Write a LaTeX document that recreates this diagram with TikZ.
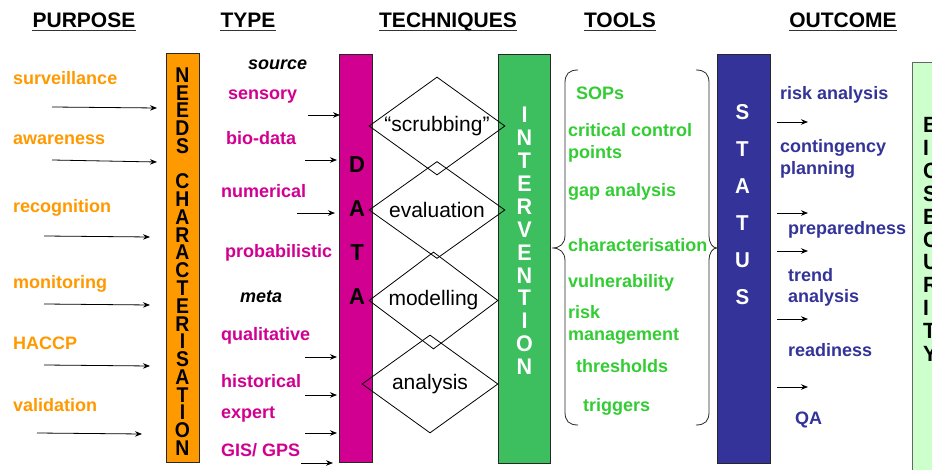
\documentclass[tikz,border=0pt]{standalone}
\usepackage{fontspec}
\setmainfont{Liberation Sans}
\usepackage{graphicx}
\usetikzlibrary{shapes.geometric,arrows.meta}
\definecolor{orangeB}{RGB}{255,153,0}
\definecolor{magB}{RGB}{210,0,145}
\definecolor{greenB}{RGB}{61,191,95}
\definecolor{greenT}{RGB}{51,204,51}
\definecolor{blueB}{RGB}{51,51,153}
\definecolor{bioB}{RGB}{204,255,204}
\definecolor{edgeC}{RGB}{40,40,40}
% vertical letter stacks: scale, baselineskip, rows
\newcommand\cstack[3]{\scalebox{1}[#1]{\vbox{\baselineskip=#2\lineskiplimit=-100pt\lineskip=0pt\halign{\hfil##\hfil\cr#3\crcr}}}}
\newcommand\lstack[3]{\scalebox{1}[#1]{\vbox{\baselineskip=#2\lineskiplimit=-100pt\lineskip=0pt\halign{##\hfil\cr#3\crcr}}}}
\begin{document}
\begin{tikzpicture}[x=1pt,y=-1pt,
  hdr/.style={anchor=base,inner sep=0,font=\fontsize{21}{24}\selectfont\bfseries},
  uline/.style={line width=1.6pt,draw=black!80},
  lbl/.style={anchor=base west,inner sep=0,font=\fontsize{18}{21}\selectfont\bfseries},
  purp/.style={lbl,text=orangeB},
  typ/.style={lbl,text=magB},
  metalbl/.style={lbl,text=black,font=\fontsize{18}{21}\selectfont\bfseries\itshape},
  tool/.style={lbl,text=greenT},
  outc/.style={lbl,text=blueB},
  bar/.style={draw=edgeC,line width=0.7pt,inner sep=0,rectangle},
  stack/.style={inner sep=0,font=\bfseries},
  diam/.style={draw=black,line width=0.8pt,shape=diamond,aspect=1.39,inner sep=0,font=\fontsize{21}{24}\selectfont},
  arr/.style={-{Stealth[length=7pt,width=5.5pt]},line width=0.8pt},
  brace/.style={draw=black!85,line width=0.8pt}]
\useasboundingbox (0,0) rectangle (932,470);
\clip (0,0) rectangle (932,470);

% ---------- headers ----------
\node[hdr] (hpurpose) at (84,28) {PURPOSE};
\node[hdr] (htype) at (248,28) {TYPE};
\node[hdr] (htech) at (448,28) {TECHNIQUES};
\node[hdr] (htools) at (620,28) {TOOLS};
\node[hdr] (hout) at (843,28) {OUTCOME};
\foreach \h in {hpurpose,htype,htech,htools,hout}
  \draw[uline] ([yshift=-2.5pt]\h.base west) -- ([yshift=-2.5pt]\h.base east);

% ---------- bars ----------
\node[bar,fill=orangeB,minimum width=33,minimum height=409] (needsbar) at (182.5,257.5) {};
\node[bar,fill=magB,minimum width=33,minimum height=408] (databar) at (355.5,258) {};
\node[bar,fill=greenB,minimum width=52,minimum height=409] (intbar) at (524,258.5) {};
\node[bar,fill=blueB,minimum width=53,minimum height=409] (statbar) at (743.5,258.5) {};
\node[bar,fill=bioB,draw=black!60,anchor=north west,minimum width=40,minimum height=430] (biobar) at (912,62) {};

\node[stack,text=black,font=\fontsize{19.4}{16}\selectfont\bfseries] (needstxt) at (182.5,261.5)
  {\cstack{1.1}{16.15pt}{N\cr E\cr E\cr D\cr S\cr\noalign{\vskip16.15pt} C\cr H\cr A\cr R\cr A\cr C\cr T\cr E\cr R\cr I\cr S\cr A\cr T\cr I\cr O\cr N}};
\node[stack,text=black,font=\fontsize{22}{20}\selectfont\bfseries] (datatxt) at (357,231)
  {\cstack{1.05}{41.9pt}{D\cr A\cr T\cr A}};
\node[stack,text=white,font=\fontsize{21.5}{20}\selectfont\bfseries] (inttxt) at (524.5,241)
  {\cstack{1.05}{21.8pt}{I\cr N\cr T\cr E\cr R\cr V\cr E\cr N\cr T\cr I\cr O\cr N}};
\node[stack,text=white,font=\fontsize{20.5}{20}\selectfont\bfseries] (stattxt) at (742.5,204.5)
  {\cstack{1.05}{35.2pt}{S\cr T\cr A\cr T\cr U\cr S}};
\node[stack,text=black,anchor=west,font=\fontsize{21}{20}\selectfont\bfseries] (biotxt) at (923,239.5)
  {\lstack{1.05}{21.8pt}{B\cr I\cr O\cr S\cr E\cr C\cr U\cr R\cr I\cr T\cr Y}};

% ---------- purpose ----------
\node[purp] (p1) at (13,85) {surveillance};
\node[purp] (p2) at (13,145) {awareness};
\node[purp] (p3) at (13,213) {recognition};
\node[purp] (p4) at (13,289) {monitoring};
\node[purp] (p5) at (13,349) {HACCP};
\node[purp] (p6) at (13,411) {validation};
\coordinate (pa1) at (52,107);  \coordinate (pb1) at (157,108);
\coordinate (pa2) at (52,160);  \coordinate (pb2) at (157,162);
\coordinate (pa3) at (44,236);  \coordinate (pb3) at (150,237);
\coordinate (pa4) at (44,304);  \coordinate (pb4) at (150,305);
\coordinate (pa5) at (44,365);  \coordinate (pb5) at (150,366);
\coordinate (pa6) at (37,433);  \coordinate (pb6) at (142,434);
\foreach \i in {1,...,6} \draw[arr] (pa\i) -- (pb\i);

% ---------- type ----------
\node[metalbl] (tsource) at (248,70) {source};
\node[typ] (t1) at (228,100) {sensory};
\node[typ] (t2) at (226,145) {bio-data};
\node[typ] (t3) at (221,198) {numerical};
\node[typ] (t4) at (225,258) {probabilistic};
\node[metalbl] (tmeta) at (240,303) {meta};
\node[typ] (t5) at (221,341) {qualitative};
\node[typ] (t6) at (221,388) {historical};
\node[typ] (t7) at (221,418) {expert};
\node[typ] (t8) at (221,456) {GIS/ GPS};
\coordinate (ta1) at (308,115); \coordinate (tb1) at (340,115);
\coordinate (ta2) at (305,160); \coordinate (tb2) at (337,160);
\coordinate (ta3) at (297,213); \coordinate (tb3) at (335,213);
\coordinate (ta4) at (305,357); \coordinate (tb4) at (337,357);
\coordinate (ta5) at (305,395); \coordinate (tb5) at (337,395);
\coordinate (ta6) at (305,433); \coordinate (tb6) at (337,433);
\coordinate (ta7) at (301,463); \coordinate (tb7) at (333,463);
\foreach \i in {1,...,7} \draw[arr] (ta\i) -- (tb\i);

% ---------- techniques ----------
\node[diam,minimum width=136,minimum height=98] (dscrub) at (437,126) {“scrubbing”};
\node[diam,minimum width=136,minimum height=97] (deval) at (437,210) {evaluation};
\node[diam,minimum width=129,minimum height=97] (dmodel) at (433.5,300.5) {modelling};
\node[diam,minimum width=136,minimum height=98] (danal) at (430,384) {analysis};

% ---------- tools ----------
\draw[brace] (578,70) .. controls (569,70) and (565,74) .. (565,83) -- (565,235)
  .. controls (565,244) and (560,248) .. (552,248)
  .. controls (560,248) and (565,252) .. (565,261) -- (565,412)
  .. controls (565,421) and (569,425) .. (578,425);
\draw[brace] (696,70) .. controls (705,70) and (709,74) .. (709,83) -- (709,235)
  .. controls (709,244) and (713,248) .. (717,248)
  .. controls (713,248) and (709,252) .. (709,261) -- (709,412)
  .. controls (709,421) and (705,425) .. (696,425);
\node[tool] (o1) at (576,100) {SOPs};
\node[tool] (o2) at (568,137) {critical control};
\node[tool] (o2b) at (568,159) {points};
\node[tool] (o3) at (568,197) {gap analysis};
\node[tool] (o4) at (568,252) {characterisation};
\node[tool] (o5) at (568,288) {vulnerability};
\node[tool] (o6) at (568,319) {risk};
\node[tool] (o6b) at (568,341) {management};
\node[tool] (o7) at (576,372) {thresholds};
\node[tool] (o8) at (583,411) {triggers};

% ---------- outcome ----------
\node[outc] (u1) at (780,100) {risk analysis};
\node[outc] (u2) at (780,153) {contingency};
\node[outc] (u2b) at (780,175) {planning};
\node[outc] (u3) at (788,235) {preparedness};
\node[outc] (u4) at (788,282) {trend};
\node[outc] (u4b) at (788,303) {analysis};
\node[outc] (u5) at (788,356) {readiness};
\node[outc] (u6) at (795,424) {QA};
\coordinate (ua1) at (777,122); \coordinate (ub1) at (808,122);
\coordinate (ua2) at (777,213); \coordinate (ub2) at (808,213);
\coordinate (ua3) at (777,251); \coordinate (ub3) at (808,251);
\coordinate (ua4) at (777,319); \coordinate (ub4) at (808,319);
\coordinate (ua5) at (777,387); \coordinate (ub5) at (808,387);
\foreach \i in {1,...,5} \draw[arr] (ua\i) -- (ub\i);
\end{tikzpicture}
\end{document}
